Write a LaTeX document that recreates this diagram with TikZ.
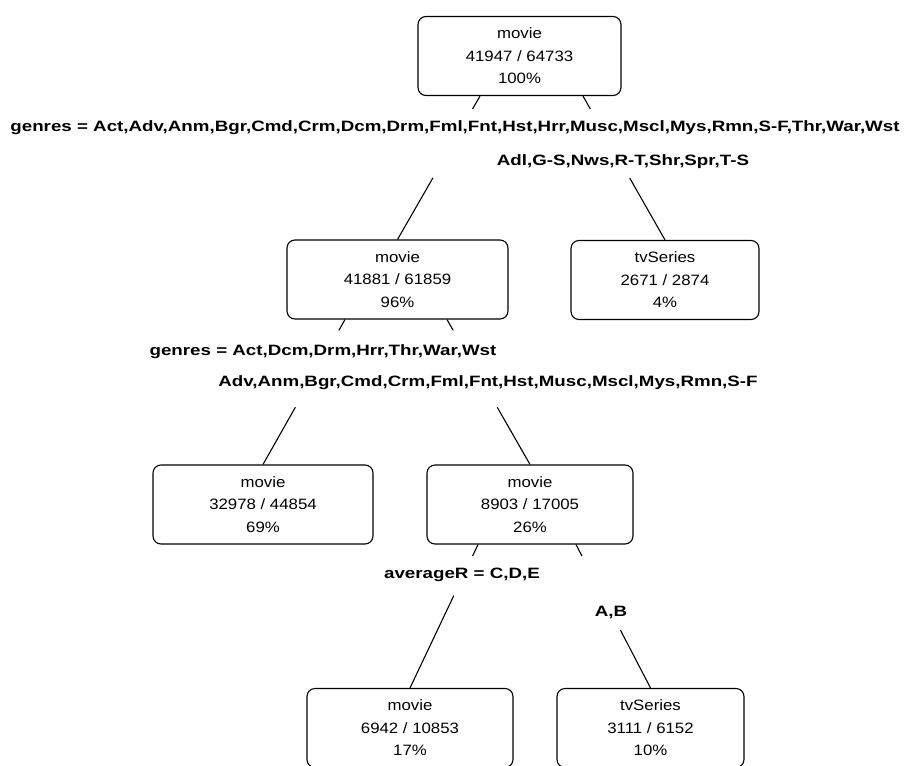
\documentclass[tikz,border=0pt]{standalone}
\usepackage{fontspec}
\setmainfont[FakeStretch=1.12]{Liberation Sans}
\newfontfamily\cutfont[FakeStretch=1.25]{Liberation Sans}
\usetikzlibrary{calc}

\begin{document}
\begin{tikzpicture}[
        x=1pt, y=-1pt,
        leaf/.style={
          draw,
          rounded corners=8pt,
          line width=1.1pt,
          align=center,
          inner sep=0pt,
          minimum height=79pt,
          minimum width=#1,
          font=\fontsize{15}{22.5}\selectfont
          },
        cut/.style={
          inner sep=0pt,
          font=\cutfont\fontsize{15}{18}\selectfont\bfseries
          },
        branch/.style={line width=1.1pt}
        ]
        \clip (0,0) rectangle (909,765);
        % boxes
        \node[leaf=203pt] (root) at (519.5,56) {movie\\41947 / 64733\\100\%};
        \node[leaf=221pt] (mv2) at (397.5,279.5) {movie\\41881 / 61859\\96\%};
        \node[leaf=188pt] (tv2) at (665,280) {tvSeries\\2671 / 2874\\4\%};
        \node[leaf=220pt] (mv3a) at (263,504.5) {movie\\32978 / 44854\\69\%};
        \node[leaf=206pt] (mv3b) at (530,504.5) {movie\\8903 / 17005\\26\%};
        \node[leaf=206pt] (mv4) at (410,728) {movie\\6942 / 10853\\17\%};
        \node[leaf=187pt] (tv4) at (650.5,728) {tvSeries\\3111 / 6152\\10\%};
        % split labels
        \node[cut] (g1) at (455,128) {genres = Act,Adv,Anm,Bgr,Cmd,Crm,Dcm,Drm,Fml,Fnt,Hst,Hrr,Musc,Mscl,Mys,Rmn,S-F,Thr,War,Wst};
        \node[cut] (g1r) at (623,162) {Adl,G-S,Nws,R-T,Shr,Spr,T-S};
        \node[cut] (g2) at (323,352) {genres = Act,Dcm,Drm,Hrr,Thr,War,Wst};
        \node[cut] (g2r) at (488,383) {Adv,Anm,Bgr,Cmd,Crm,Fml,Fnt,Hst,Musc,Mscl,Mys,Rmn,S-F};
        \node[cut] (a3) at (462,575) {averageR = C,D,E};
        \node[cut] (a3r) at (611,612) {A,B};
        % branches
        \coordinate (r1) at ([xshift=-39.5pt]root.south);
        \coordinate (r2) at ([xshift=63.5pt]root.south);
        \coordinate (m1) at ([xshift=-52.5pt]mv2.south);
        \coordinate (m2) at ([xshift=49.5pt]mv2.south);
        \coordinate (n1) at ([xshift=-52pt]mv3b.south);
        \coordinate (n2) at ([xshift=46pt]mv3b.south);
        \draw[branch] (r1) -- ($(r1)!.09!(mv2.north)$) ($(r1)!.57!(mv2.north)$) -- (mv2.north);
        \draw[branch] (r2) -- ($(r2)!.09!(tv2.north)$) ($(r2)!.57!(tv2.north)$) -- (tv2.north);
        \draw[branch] (m1) -- ($(m1)!.075!(mv3a.north)$) ($(m1)!.605!(mv3a.north)$) -- (mv3a.north);
        \draw[branch] (m2) -- ($(m2)!.075!(mv3b.north)$) ($(m2)!.605!(mv3b.north)$) -- (mv3b.north);
        \draw[branch] (n1) -- ($(n1)!.08!(mv4.north)$) ($(n1)!.356!(mv4.north)$) -- (mv4.north);
        \draw[branch] (n2) -- ($(n2)!.08!(tv4.north)$) ($(n2)!.596!(tv4.north)$) -- (tv4.north);
\end{tikzpicture}
\end{document}
